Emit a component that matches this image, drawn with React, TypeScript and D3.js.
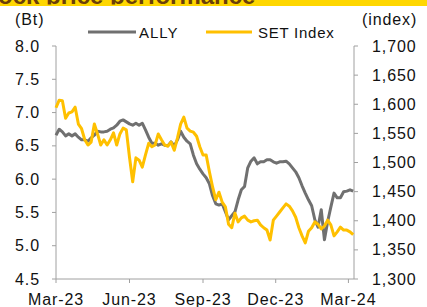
import React from 'react';
import * as d3 from 'd3';

// one observation every 4 days, Mar-23 .. early Mar-24
const dates = d3.timeDay.range(new Date(2023, 2, 1), new Date(2024, 2, 8), 4);

// ALLY share price (Bt)
const allyPrice = [
  6.66, 6.75, 6.71, 6.65, 6.68, 6.65, 6.68, 6.63, 6.59, 6.59,
  6.57, 6.62, 6.66, 6.72, 6.71, 6.71, 6.72, 6.75, 6.77, 6.81,
  6.87, 6.89, 6.86, 6.83, 6.81, 6.84, 6.81, 6.84, 6.74, 6.63,
  6.54, 6.54, 6.51, 6.53, 6.51, 6.50, 6.56, 6.50, 6.59, 6.72,
  6.63, 6.57, 6.53, 6.36, 6.23, 6.15, 6.08, 6.02, 5.93, 5.75,
  5.63, 5.61, 5.63, 5.51, 5.39, 5.45, 5.51, 5.69, 5.84, 5.89,
  6.17, 6.27, 6.32, 6.23, 6.26, 6.26, 6.29, 6.29, 6.26, 6.24,
  6.26, 6.26, 6.27, 6.23, 6.17, 6.11, 6.02, 5.90, 5.79, 5.69,
  5.60, 5.39, 5.28, 5.54, 5.09, 5.36, 5.58, 5.79, 5.72, 5.72,
  5.81, 5.82, 5.84, 5.82,
];

// SET Index (points)
const setIndex = [
  1594, 1607, 1606, 1576, 1585, 1587, 1595, 1566, 1558, 1539,
  1530, 1535, 1566, 1549, 1530, 1539, 1530, 1539, 1551, 1530,
  1549, 1559, 1556, 1509, 1467, 1508, 1504, 1492, 1513, 1533,
  1527, 1530, 1549, 1539, 1530, 1528, 1535, 1521, 1542, 1566,
  1578, 1559, 1554, 1552, 1545, 1527, 1513, 1513, 1484, 1458,
  1436, 1449, 1432, 1424, 1394, 1388, 1413, 1398, 1405, 1408,
  1401, 1398, 1400, 1401, 1393, 1388, 1384, 1367, 1401, 1408,
  1415, 1422, 1429, 1425, 1417, 1406, 1388, 1374, 1362, 1382,
  1388, 1398, 1394, 1386, 1391, 1401, 1393, 1374, 1381, 1389,
  1384, 1384, 1381, 1376,
];

const leftTicks = [4.5, 5.0, 5.5, 6.0, 6.5, 7.0, 7.5, 8.0];
const rightTicks = [1300, 1350, 1400, 1450, 1500, 1550, 1600, 1650, 1700];
const xTicks = [
  new Date(2023, 2, 1),
  new Date(2023, 5, 1),
  new Date(2023, 8, 1),
  new Date(2023, 11, 1),
  new Date(2024, 2, 1),
];

const W = 427;
const H = 307;
const left = 56;
const right = 354;
const top = 46;
const bottom = 279;

const FONT = '"Liberation Sans", Arial, sans-serif';
const AXIS = '#a0a0a0';
const GREY = '#707070';
const GOLD = '#FFC000';

const x = d3.scaleTime()
  .domain([new Date(2023, 2, 1), new Date(2024, 2, 8)])
  .range([left, right]);
const yL = d3.scaleLinear().domain([4.5, 8]).range([bottom, top]);
const yR = d3.scaleLinear().domain([1300, 1700]).range([bottom, top]);

const n = Math.min(dates.length, allyPrice.length, setIndex.length);
const idx = d3.range(n);

const allyLine = d3.line<number>()
  .x(i => x(dates[i]))
  .y(i => yL(allyPrice[i]));
const setLine = d3.line<number>()
  .x(i => x(dates[i]))
  .y(i => yR(setIndex[i]));

const fmtR = d3.format(',');
const fmtX = d3.timeFormat('%b-%y');

export default function App() {
  return (
    <svg
      width={W}
      height={H}
      viewBox={`0 0 ${W} ${H}`}
      style={{ position: 'fixed', left: 0, top: 0, background: '#fff' }}
      fontFamily={FONT}
    >
      <defs>
        <clipPath id="titleClip">
          <rect x={0} y={0} width={W} height={4.5} />
        </clipPath>
      </defs>

      {/* title band, cropped at the top of the picture */}
      <rect x={0} y={0} width={W} height={6} fill="#FFD700" />
      <text
        x={-26}
        y={4}
        fontSize={24}
        fontWeight="bold"
        fill="#6B3F0A"
        clipPath="url(#titleClip)"
      >
        Stock price performance
      </text>

      {/* axis units */}
      <text x={15} y={25} fontSize={16} fill="#111" style={{ letterSpacing: '0.9px' }}>(Bt)</text>
      <text x={362} y={25} fontSize={16} fill="#111" style={{ letterSpacing: '0.9px' }}>(index)</text>

      {/* legend */}
      <line x1={88} x2={136} y1={32} y2={32} stroke={GREY} strokeWidth={3} />
      <text x={139} y={37.5} fontSize={15} fill="#111" style={{ letterSpacing: '1px' }}>ALLY</text>
      <line x1={206} x2={252} y1={32} y2={32} stroke={GOLD} strokeWidth={3} />
      <text x={258} y={37.5} fontSize={15} fill="#111" style={{ letterSpacing: '0.75px' }}>SET Index</text>

      {/* axes */}
      <line x1={left} x2={left} y1={top} y2={bottom} stroke={AXIS} />
      <line x1={right} x2={right} y1={top} y2={bottom} stroke={AXIS} />
      <line x1={left} x2={right} y1={bottom} y2={bottom} stroke={AXIS} />

      {leftTicks.map(t => (
        <g key={`l${t}`}>
          <line x1={left - 4} x2={left} y1={yL(t)} y2={yL(t)} stroke={AXIS} />
          <text
            x={40}
            y={yL(t) + 5.5}
            textAnchor="end"
            fontSize={16}
            fill="#111"
            style={{ letterSpacing: '0.9px' }}
          >
            {t.toFixed(1)}
          </text>
        </g>
      ))}

      {rightTicks.map(t => (
        <g key={`r${t}`}>
          <line x1={right} x2={right + 4} y1={yR(t)} y2={yR(t)} stroke={AXIS} />
          <text
            x={372}
            y={yR(t) + 5.5}
            fontSize={16}
            fill="#111"
            style={{ letterSpacing: '0.9px' }}
          >
            {fmtR(t)}
          </text>
        </g>
      ))}

      {xTicks.map(t => (
        <g key={`x${+t}`}>
          <line x1={x(t)} x2={x(t)} y1={bottom} y2={bottom + 4} stroke={AXIS} />
          <text
            x={x(t)}
            y={305}
            textAnchor="middle"
            fontSize={16}
            fill="#111"
            style={{ letterSpacing: '0.9px' }}
          >
            {fmtX(t)}
          </text>
        </g>
      ))}

      {/* series */}
      <path d={allyLine(idx) ?? ''} fill="none" stroke={GREY} strokeWidth={3} strokeLinejoin="round" />
      <path d={setLine(idx) ?? ''} fill="none" stroke={GOLD} strokeWidth={3} strokeLinejoin="round" />
    </svg>
  );
}
